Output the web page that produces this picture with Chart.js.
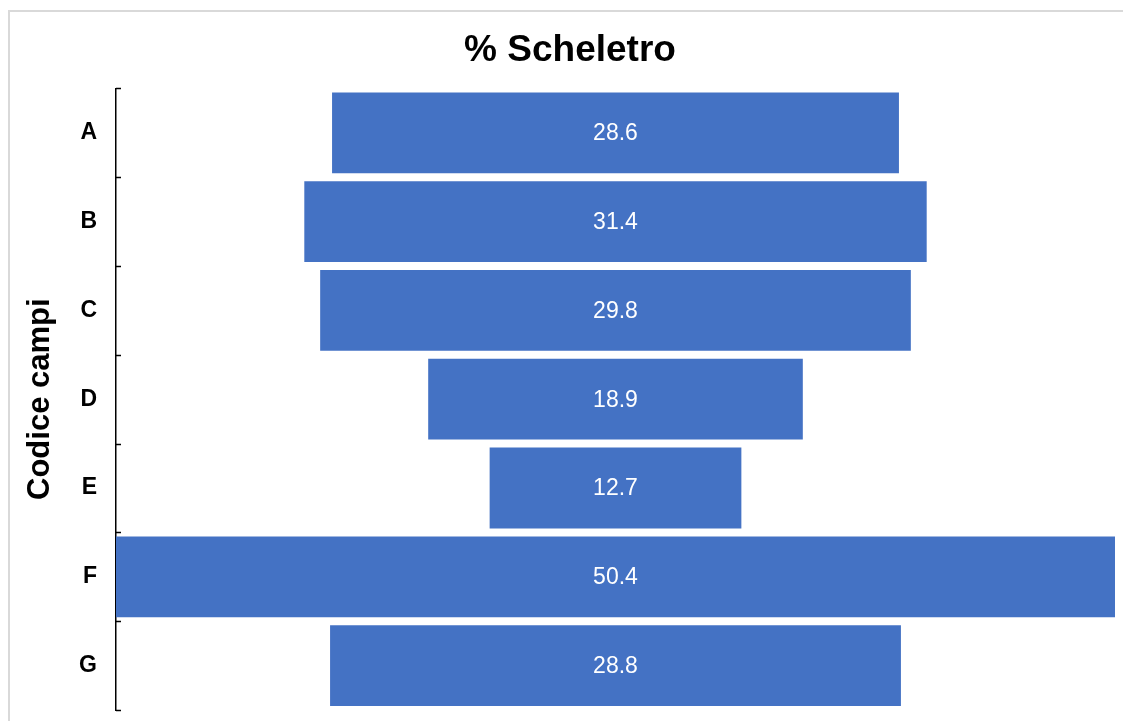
<!DOCTYPE html>
<html>
<head>
<meta charset="utf-8">
<script src="https://cdn.jsdelivr.net/npm/chart.js@4"></script>
<style>
  html, body { margin: 0; padding: 0; background: #fff; }
  #wrap { width: 1123px; height: 721px; }
</style>
</head>
<body>
<div id="wrap"><canvas id="chart" width="1123" height="721"></canvas></div>
<script>
// Data
const categories = ['A', 'B', 'C', 'D', 'E', 'F', 'G'];
const values = [28.6, 31.4, 29.8, 18.9, 12.7, 50.4, 28.8];

const maxVal = Math.max(...values);
// funnel: each bar is centred on zero
const funnelBars = values.map(v => [-v / 2, v / 2]);

const FONT = 'Liberation Sans, Arial, sans-serif';

// Outer frame of the picture
const framePlugin = {
  id: 'frame',
  beforeDraw(chart) {
    const c = chart.ctx;
    c.save();
    c.fillStyle = '#fff';
    c.fillRect(0, 0, chart.width, chart.height);
    c.strokeStyle = '#d9d9d9';
    c.lineWidth = 2;
    c.strokeRect(9, 11, chart.width + 20, chart.height + 20);
    c.restore();
  }
};

// Short tick marks on the inside of the category axis
const tickPlugin = {
  id: 'innerTicks',
  afterDraw(chart) {
    const y = chart.scales.y;
    const c = chart.ctx;
    c.save();
    c.strokeStyle = '#000';
    c.lineWidth = 1.5;
    for (let i = 0; i <= categories.length; i++) {
      const py = Math.round(y.getPixelForValue(i - 0.5)) + 0.5;
      c.beginPath();
      c.moveTo(y.right, py);
      c.lineTo(y.right + 5, py);
      c.stroke();
    }
    c.restore();
  }
};

// Value labels inside the bars
const labelPlugin = {
  id: 'barLabels',
  afterDatasetsDraw(chart) {
    const c = chart.ctx;
    const meta = chart.getDatasetMeta(0);
    c.save();
    c.fillStyle = '#fff';
    c.font = '23px ' + FONT;
    c.textAlign = 'center';
    c.textBaseline = 'middle';
    meta.data.forEach((bar, i) => {
      const cx = (bar.x + bar.base) / 2;
      c.fillText(values[i].toFixed(1), cx, bar.y + 1);
    });
    c.restore();
  }
};

new Chart(document.getElementById('chart'), {
  type: 'bar',
  data: {
    labels: categories,
    datasets: [{
      data: funnelBars,
      backgroundColor: '#4472C4',
      borderWidth: 0,
      categoryPercentage: 1,
      barPercentage: 0.91
    }]
  },
  plugins: [framePlugin, tickPlugin, labelPlugin],
  options: {
    responsive: false,
    animation: false,
    indexAxis: 'y',
    layout: { padding: { left: 25, right: 8, top: 20, bottom: 11 } },
    plugins: {
      legend: { display: false },
      tooltip: { enabled: false },
      title: {
        display: true,
        text: '% Scheletro',
        color: '#000',
        font: { family: FONT, size: 37, weight: 'bold' },
        padding: { top: 9, bottom: 15 }
      }
    },
    scales: {
      x: {
        display: false,
        min: -maxVal / 2,
        max: maxVal / 2
      },
      y: {
        afterFit(scale) {
          scale.width = 91;
          scale.paddingTop = 0;
          scale.paddingBottom = 0;
        },
        grid: { display: false, drawTicks: false },
        border: { display: true, color: '#000', width: 1.5 },
        ticks: {
          color: '#000',
          padding: 19,
          font: { family: FONT, size: 23, weight: 'bold' }
        },
        title: {
          display: true,
          text: 'Codice campi',
          color: '#000',
          font: { family: FONT, size: 31, weight: 'bold', lineHeight: 1 },
          padding: { top: 0, bottom: 0 }
        }
      }
    }
  }
});
</script>
</body>
</html>
